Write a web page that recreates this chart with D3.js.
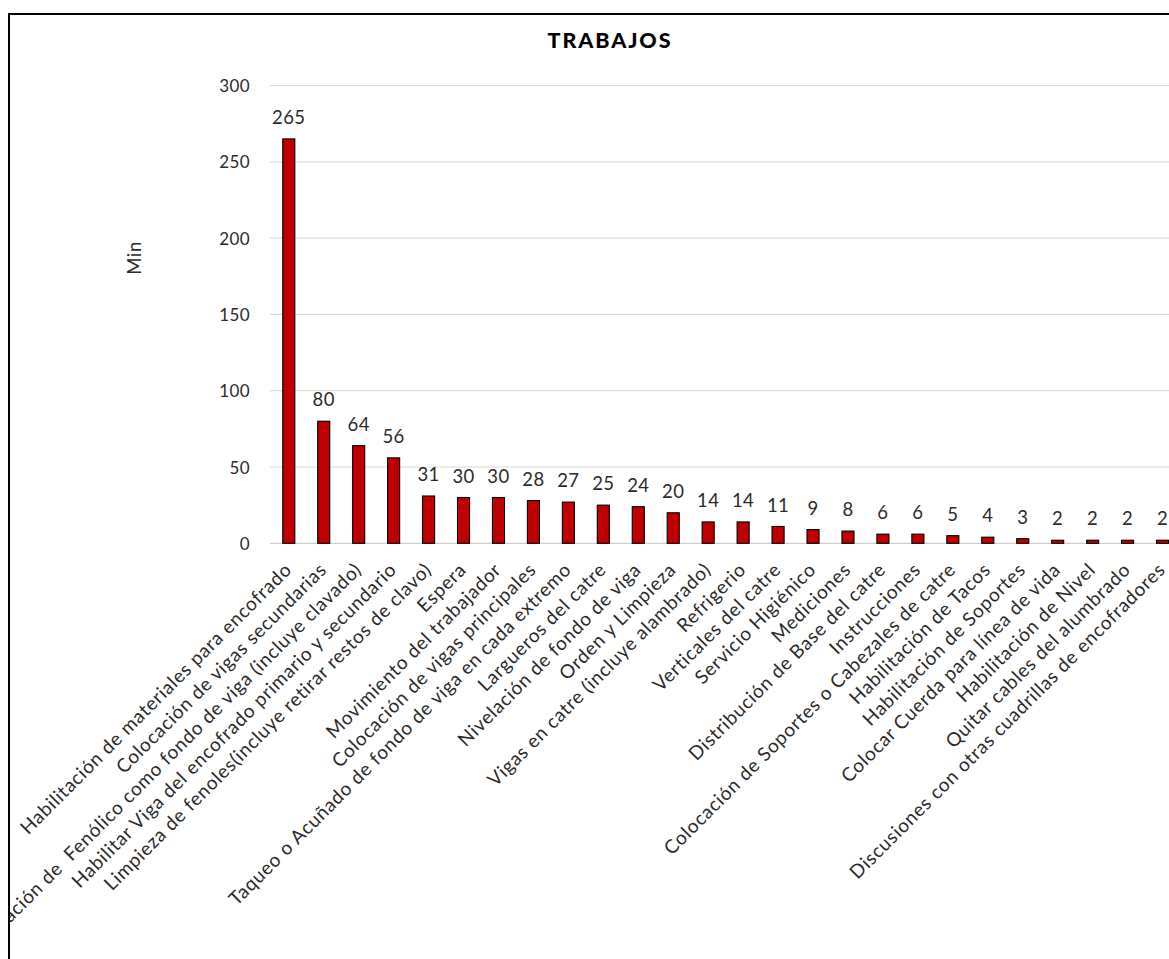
<!DOCTYPE html>
<html>
<head>
<meta charset="utf-8">
<script src="https://cdn.jsdelivr.net/npm/d3@7"></script>
<style>
  html, body { margin: 0; padding: 0; background: #fff; overflow: hidden; }
  svg { display: block; }
</style>
</head>
<body>
<svg id="chart" width="1169" height="959"></svg>
<script>
// Tiempos por actividad de encofrado (minutos)
const categories = [
  "Habilitación de materiales para encofrado",
  "Colocación de vigas secundarias",
  "Colocación de  Fenólico como fondo de viga (incluye clavado)",
  "Habilitar Viga del encofrado primario y secundario",
  "Limpieza de fenoles(incluye retirar restos de clavo)",
  "Espera",
  "Movimiento del trabajador",
  "Colocación de vigas principales",
  "Taqueo o Acuñado de fondo de viga en cada extremo",
  "Largueros del catre",
  "Nivelación de fondo de viga",
  "Orden y Limpieza",
  "Vigas en catre (incluye alambrado)",
  "Refrigerio",
  "Verticales del catre",
  "Servicio Higiénico",
  "Mediciones",
  "Distribución de Base del catre",
  "Instrucciones",
  "Colocación de Soportes o Cabezales de catre",
  "Habilitación de Tacos",
  "Habilitación de Soportes",
  "Colocar Cuerda para línea de vida",
  "Habilitación de Nivel",
  "Quitar cables del alumbrado",
  "Discusiones con otras cuadrillas de encofradores"
];
const minutes = [265, 80, 64, 56, 31, 30, 30, 28, 27, 25, 24, 20, 14, 14, 11, 9, 8, 6, 6, 5, 4, 3, 2, 2, 2, 2];
const yTicks = [0, 50, 100, 150, 200, 250, 300];
const chartTitle = "TRABAJOS";
const yTitle = "Min";

const svg = d3.select("#chart");
const font = "Lato, 'Open Sans', sans-serif";
const ink = "#2b2b2b";

// chart area frame and clip
const frame = { x: 9, y: 14, w: 1220, h: 1000 };
svg.append("defs").append("clipPath").attr("id", "area")
  .append("rect").attr("x", frame.x + 1).attr("y", frame.y + 1)
  .attr("width", frame.w).attr("height", frame.h);

const g = svg.append("g").attr("clip-path", "url(#area)");

const plot = { left: 271.3, top: 85.5, bottom: 543.3 };
const step = 34.95;
const x = d3.scaleBand()
  .domain(categories)
  .range([plot.left, plot.left + step * categories.length])
  .paddingInner(0.655)
  .paddingOuter(0.3275);
const y = d3.scaleLinear().domain([0, 300]).range([plot.bottom, plot.top]);

// gridlines
const gridRight = 1240;
g.append("g")
  .selectAll("line")
  .data(yTicks)
  .join("line")
  .attr("x1", 270).attr("x2", gridRight)
  .attr("y1", d => y(d)).attr("y2", d => y(d))
  .attr("stroke", d => d === 0 ? "#cfcfcf" : "#dcdcdc")
  .attr("stroke-width", 1.2);

// y axis labels
const yAxis = d3.axisLeft(y).tickValues(yTicks).tickSize(0).tickPadding(0);
const ya = g.append("g").attr("transform", "translate(250,0)").call(yAxis);
ya.select(".domain").remove();
ya.selectAll("text")
  .attr("font-family", font).attr("font-size", 17).attr("fill", ink)
  .attr("letter-spacing", 0.4)
  .attr("dy", "0.36em");

// bars
g.append("g")
  .selectAll("rect")
  .data(minutes)
  .join("rect")
  .attr("x", (d, i) => x(categories[i]))
  .attr("y", d => y(d))
  .attr("width", x.bandwidth())
  .attr("height", d => y(0) - y(d))
  .attr("fill", "#C00000")
  .attr("stroke", "#000")
  .attr("stroke-width", 1.1);

// value labels
g.append("g")
  .selectAll("text")
  .data(minutes)
  .join("text")
  .attr("x", (d, i) => x(categories[i]) + x.bandwidth() / 2)
  .attr("y", d => y(d) - 15)
  .attr("text-anchor", "middle")
  .attr("font-family", font).attr("font-size", 18.5).attr("fill", ink)
  .attr("letter-spacing", 0.4)
  .text(d => d);

// category labels, rotated
g.append("g")
  .selectAll("text")
  .data(categories)
  .join("text")
  .attr("transform", d => `translate(${x(d) + x.bandwidth() / 2 + 4},571) rotate(-45)`)
  .attr("text-anchor", "end")
  .attr("font-family", font).attr("font-size", 19).attr("fill", ink)
  .attr("letter-spacing", 0.7)
  .style("white-space", "pre")
  .text(d => d);

// titles
g.append("text")
  .attr("x", 610).attr("y", 48)
  .attr("text-anchor", "middle")
  .attr("font-family", font).attr("font-size", 21.5).attr("font-weight", "900")
  .attr("letter-spacing", 1.9)
  .attr("fill", "#000")
  .text(chartTitle);

g.append("text")
  .attr("transform", "translate(141,258) rotate(-90)")
  .attr("text-anchor", "middle")
  .attr("font-family", font).attr("font-size", 18.5).attr("fill", ink)
  .attr("letter-spacing", 0.6)
  .text(yTitle);

// frame border
svg.append("rect")
  .attr("x", frame.x).attr("y", frame.y)
  .attr("width", frame.w).attr("height", frame.h)
  .attr("fill", "none").attr("stroke", "#000").attr("stroke-width", 2);
</script>
</body>
</html>
